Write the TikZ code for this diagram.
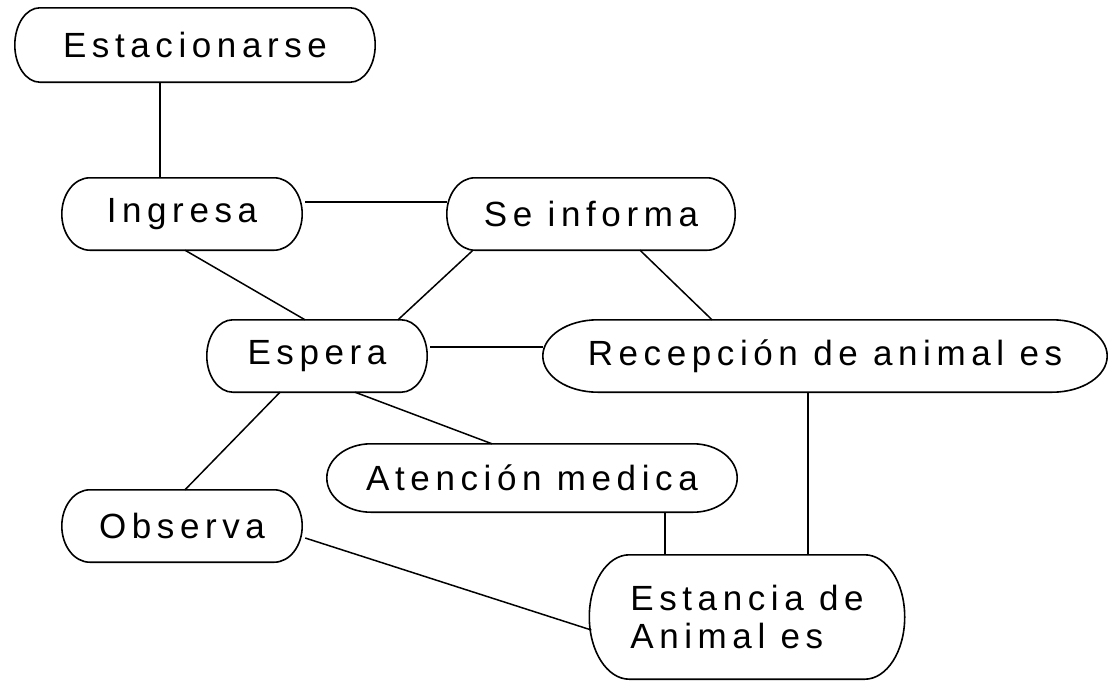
\documentclass[tikz,border=0pt]{standalone}
\usepackage{fontspec}
\setmainfont{Liberation Sans}[LetterSpace=16]
\usetikzlibrary{calc}
\tikzset{
  box/.style={rectangle, draw=none, inner sep=0pt, align=center,
    font=\fontsize{35}{38}\selectfont},
  link/.style={draw=black, line width=1.5pt},
  outline/.style={draw=black, line width=1.6pt}
}
\newcommand\stadiumoutline[2]{%
  \draw[outline] let \p1=(#1.north east), \p2=(#1.south west), \n1={(\y1-\y2)/2} in
   ([xshift=#2pt]#1.north west) -- ([xshift=-#2pt]#1.north east)
   arc[start angle=90, end angle=-90, x radius=#2pt, y radius=\n1]
   -- ([xshift=#2pt]#1.south west)
   arc[start angle=270, end angle=90, x radius=#2pt, y radius=\n1] -- cycle;}
\begin{document}
\begin{tikzpicture}[x=1pt, y=-1pt]
\useasboundingbox (0,0) rectangle (1108,680);
\node[box, minimum width=360pt, minimum height=74pt] (est) at (195,45) {Estacionarse};
\node[box, minimum width=240pt, minimum height=72pt] (ing) at (182,214) {Ingresa};
\node[box, minimum width=288pt, minimum height=72pt] (inf) at (591,214) {Se informa};
\node[box, minimum width=220pt, minimum height=72pt] (esp) at (317,356) {Espera};
\node[box, minimum width=564pt, minimum height=72pt] (rec) at (825,356) {Recepción de animal es};
\node[box, minimum width=410pt, minimum height=68pt] (ate) at (532,478) {Atención medica};
\node[box, minimum width=240pt, minimum height=72pt] (obs) at (182,526) {Observa};
\node[box, minimum width=315pt, minimum height=124pt, align=left] (sta) at (747,617) {Estancia de\\Animal es};
\stadiumoutline{est}{25}
\stadiumoutline{ing}{28}
\stadiumoutline{inf}{28}
\stadiumoutline{esp}{26}
\stadiumoutline{rec}{55}
\stadiumoutline{ate}{44}
\stadiumoutline{obs}{28}
\stadiumoutline{sta}{40}
\draw[link] ([xshift=-35pt]est.south) -- ([xshift=-22pt]ing.north);
\draw[link] ([xshift=3pt,yshift=12pt]ing.east) -- ([yshift=12pt]inf.west);
\draw[link] ([xshift=3pt]ing.south) -- ([xshift=-12pt]esp.north);
\draw[link] ([xshift=-118pt]inf.south) -- ([xshift=81pt]esp.north);
\draw[link] ([xshift=49pt]inf.south) -- ([xshift=-113pt]rec.north);
\draw[link] ([xshift=3pt,yshift=9pt]esp.east) -- ([yshift=9pt]rec.west);
\draw[link] ([xshift=-37pt]esp.south) -- ([xshift=3pt]obs.north);
\draw[link] ([xshift=38pt]esp.south) -- ([xshift=-40pt]ate.north);
\draw[link] ([xshift=-17pt]rec.south) -- ([xshift=61pt]sta.north);
\draw[link] ([xshift=133pt]ate.south) -- ([xshift=-82pt]sta.north);
\draw[link] ([xshift=3pt,yshift=-12pt]obs.east) -- ([xshift=2pt,yshift=-13pt]sta.west);
\end{tikzpicture}
\end{document}
